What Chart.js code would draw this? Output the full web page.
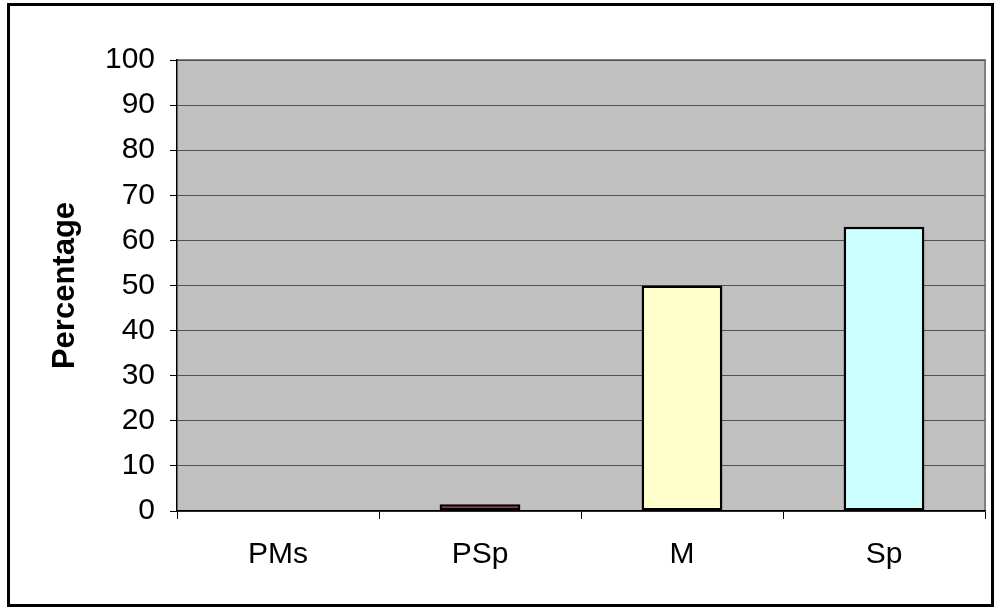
<!DOCTYPE html>
<html>
<head>
<meta charset="utf-8">
<script src="https://cdn.jsdelivr.net/npm/chart.js@4.4.1/dist/chart.umd.min.js"></script>
<style>
    body { margin: 0; background: #fff; }
    #wrap { width: 997px; height: 611px; }
</style>
</head>
<body>
<div id="wrap"><canvas id="grafico" width="997" height="611"></canvas></div>
<script>
const categorias = ['PMs', 'PSp', 'M', 'Sp'];
const percentuais = [0, 1.5, 50, 63];
const coresBarras = ['#9999FF', '#993366', '#FFFFCC', '#CCFFFF'];
const ticksY = [0, 10, 20, 30, 40, 50, 60, 70, 80, 90, 100];

const fonte = "Arial, 'Liberation Sans', sans-serif";

// fundo cinza da área do gráfico e moldura externa
const molduraPlugin = {
    id: 'moldura',
    beforeDraw(chart) {
        const { ctx, chartArea: a } = chart;
        ctx.save();
        ctx.fillStyle = '#fff';
        ctx.fillRect(0, 0, chart.width, chart.height);
        ctx.fillStyle = '#C0C0C0';
        ctx.fillRect(a.left, a.top, a.right - a.left, a.bottom - a.top);
        ctx.strokeStyle = '#808080';
        ctx.lineWidth = 2;
        ctx.beginPath();
        ctx.moveTo(a.left, a.top);
        ctx.lineTo(a.right, a.top);
        ctx.lineTo(a.right, a.bottom);
        ctx.stroke();
        ctx.strokeStyle = '#000';
        ctx.lineWidth = 3;
        ctx.strokeRect(8.5, 4.5, 984, 601);
        ctx.restore();
    }
};

const ctx = document.getElementById('grafico').getContext('2d');

new Chart(ctx, {
    type: 'bar',
    data: {
        labels: categorias,
        datasets: [{
            label: 'Percentage',
            data: percentuais,
            backgroundColor: coresBarras,
            borderColor: '#000',
            borderWidth: 2.5,
            borderSkipped: false,
            categoryPercentage: 1,
            barPercentage: 0.4
        }]
    },
    options: {
        responsive: false,
        animation: false,
        layout: { padding: { top: 60, right: 12, bottom: 0, left: 0 } },
        plugins: {
            legend: { display: false },
            tooltip: { enabled: false }
        },
        scales: {
            x: {
                afterFit: scale => { scale.height = 100; },
                grid: {
                    display: true,
                    drawOnChartArea: false,
                    color: '#000',
                    tickLength: 8,
                    offset: true
                },
                border: { color: '#000', width: 1.5 },
                ticks: {
                    color: '#000',
                    padding: 18,
                    font: { family: fonte, size: 30 }
                }
            },
            y: {
                min: 0,
                max: 100,
                afterFit: scale => { scale.width = 177; },
                afterBuildTicks: scale => {
                    scale.ticks = ticksY.map(v => ({ value: v }));
                },
                grid: {
                    color: '#505050',
                    lineWidth: 1,
                    tickLength: 7,
                    tickColor: '#000'
                },
                border: { color: '#000', width: 1.5 },
                ticks: {
                    color: '#000',
                    padding: 15,
                    font: { family: fonte, size: 30 }
                },
                title: {
                    display: true,
                    text: 'Percentage',
                    color: '#000',
                    padding: { top: 47, bottom: 0 },
                    font: { family: fonte, size: 31, weight: 'bold' }
                }
            }
        }
    },
    plugins: [molduraPlugin]
});
</script>
</body>
</html>
